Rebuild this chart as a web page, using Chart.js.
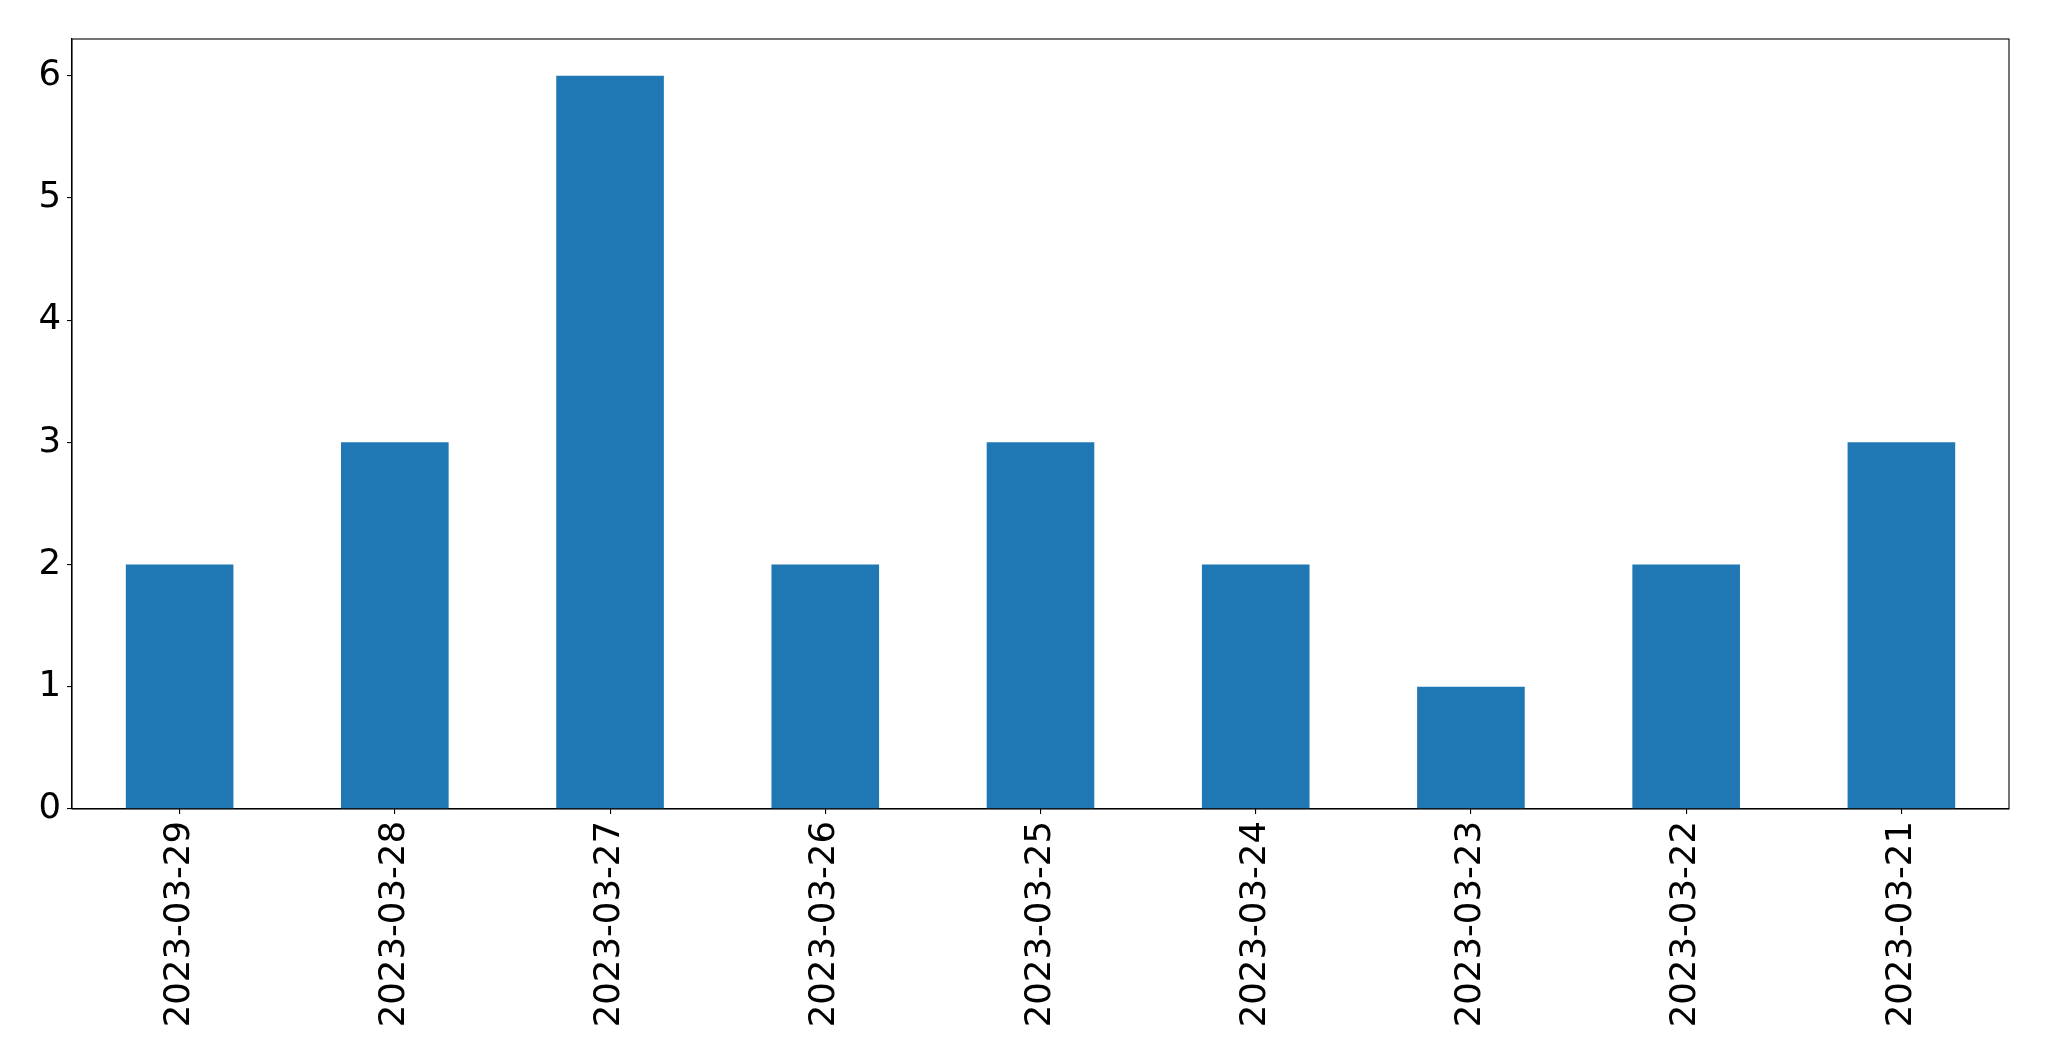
<!DOCTYPE html>
<html>
<head>
<meta charset="utf-8">
<script src="https://cdn.jsdelivr.net/npm/chart.js@4"></script>
<style>
  html, body { margin: 0; padding: 0; background: #fff; }
  canvas { display: block; }
</style>
</head>
<body>
<canvas id="chart" width="2049" height="1061"></canvas>
<script>
// data
const dias = ['2023-03-29', '2023-03-28', '2023-03-27', '2023-03-26', '2023-03-25',
              '2023-03-24', '2023-03-23', '2023-03-22', '2023-03-21'];
const valores = [2, 3, 6, 2, 3, 2, 1, 2, 3];
const yMax = 6.3;

// moldura completa em volta da área do gráfico
const moldura = {
    id: 'moldura',
    afterDraw(chart) {
        const { ctx, chartArea: a } = chart;
        ctx.save();
        ctx.strokeStyle = '#000';
        ctx.lineWidth = 1.1;
        ctx.strokeRect(a.left, a.top, a.right - a.left, a.bottom - a.top);
        ctx.restore();
    }
};

const ctx = document.getElementById('chart').getContext('2d');

new Chart(ctx, {
    type: 'bar',
    data: {
        labels: dias,
        datasets: [{
            data: valores,
            backgroundColor: '#1f77b4',
            borderWidth: 0,
            barPercentage: 0.5,
            categoryPercentage: 1.0
        }]
    },
    options: {
        responsive: false,
        animation: false,
        plugins: {
            legend: { display: false },
            tooltip: { enabled: false }
        },
        layout: { padding: { top: 39, right: 40, bottom: 0, left: 0 } },
        scales: {
            x: {
                grid: { display: true, drawOnChartArea: false, offset: false, tickLength: 5, color: '#000', lineWidth: 1.1 },
                border: { display: true, color: '#000', width: 1.1 },
                ticks: {
                    maxRotation: 90, minRotation: 90, autoSkip: false, padding: 7,
                    color: '#000', font: { family: 'DejaVu Sans', size: 35.5 }
                },
                afterFit(scale) { scale.height = 252; }
            },
            y: {
                min: 0,
                max: yMax,
                grid: { display: true, drawOnChartArea: false, tickLength: 5, color: '#000', lineWidth: 1.1 },
                border: { display: true, color: '#000', width: 1.1 },
                ticks: {
                    stepSize: 1, includeBounds: false, padding: 6,
                    color: '#000', font: { family: 'DejaVu Sans', size: 35.5 }
                },
                afterFit(scale) { scale.width = 72; }
            }
        }
    },
    plugins: [moldura]
});
</script>
</body>
</html>
